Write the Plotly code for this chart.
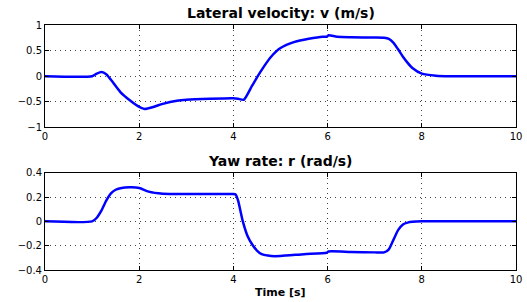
import plotly.graph_objects as go

t_v = [0, 1.0, 1.1, 1.2, 1.3, 1.4, 1.6, 1.8, 2.0, 2.12, 2.3, 2.5, 2.8, 3.0, 3.5, 4.0, 4.1, 4.22, 4.4, 4.57,
       4.8, 5.0, 5.3, 5.6, 5.9, 5.98, 6.02, 6.2, 6.5, 7.0, 7.2, 7.3, 7.4, 7.5, 7.6, 7.7, 7.8, 8.0, 8.3, 8.6, 10]
v = [0, 0, 0.05, 0.08, 0.04, -0.07, -0.31, -0.47, -0.60, -0.64, -0.60, -0.54, -0.48, -0.46, -0.44, -0.43,
     -0.44, -0.46, -0.18, 0.08, 0.38, 0.55, 0.67, 0.73, 0.77, 0.77, 0.80, 0.77, 0.76, 0.755, 0.75, 0.73,
     0.65, 0.52, 0.38, 0.26, 0.16, 0.05, 0.01, 0.0, 0.0]

t_r = [0, 1.0, 1.1, 1.2, 1.3, 1.4, 1.5, 1.6, 1.8, 2.0, 2.2, 2.5, 3.0, 3.5, 4.0, 4.05, 4.1, 4.2, 4.3, 4.4,
       4.5, 4.6, 4.8, 5.0, 5.5, 5.98, 6.02, 6.5, 7.0, 7.2, 7.3, 7.4, 7.5, 7.6, 7.7, 7.8, 8.0, 8.5, 10]
r = [0, 0, 0.03, 0.09, 0.17, 0.23, 0.26, 0.272, 0.28, 0.275, 0.245, 0.228, 0.225, 0.225, 0.225, 0.22,
     0.17, 0.0, -0.12, -0.19, -0.24, -0.27, -0.285, -0.285, -0.27, -0.258, -0.248, -0.252, -0.255,
     -0.255, -0.23, -0.15, -0.07, -0.025, -0.01, -0.004, 0.0, 0.0, 0.0]

x_ticks = [0, 2, 4, 6, 8, 10]
v_ticks = [-1, -0.5, 0, 0.5, 1]
r_ticks = [-0.4, -0.2, 0, 0.2, 0.4]

FONT = "DejaVu Sans, Verdana, sans-serif"
line = dict(color="#0000FF", width=2.5, shape="spline", smoothing=0.6)

fig = go.Figure()
fig.add_trace(go.Scatter(x=t_v, y=v, mode="lines", line=line, xaxis="x", yaxis="y", showlegend=False))
fig.add_trace(go.Scatter(x=t_r, y=r, mode="lines", line=line, xaxis="x2", yaxis="y2", showlegend=False))

ax_common = dict(showline=True, linecolor="black", linewidth=1, mirror="ticks", ticks="inside",
                 ticklen=4, tickcolor="black", showgrid=True, gridcolor="#444444", griddash="1px,4px",
                 gridwidth=1, zeroline=False, automargin=False,
                 tickfont=dict(family=FONT, size=10, color="black"))

fig.update_layout(
    width=527, height=302,
    margin=dict(l=45, r=11, t=25, b=32, autoexpand=False),
    paper_bgcolor="white", plot_bgcolor="white",
    xaxis=dict(domain=[0, 1], range=[0, 10], tickvals=x_ticks, anchor="y", **ax_common),
    yaxis=dict(domain=[0.582, 1], range=[-1, 1], tickvals=v_ticks, anchor="x",
               ticktext=["\u22121", "\u22120.5", "0", "0.5", "1"], **ax_common),
    xaxis2=dict(domain=[0, 1], range=[0, 10], tickvals=x_ticks, anchor="y2", **ax_common),
    yaxis2=dict(domain=[0, 0.397], range=[-0.4, 0.4], tickvals=r_ticks, anchor="x2",
                ticktext=["\u22120.4", "\u22120.2", "0", "0.2", "0.4"], **ax_common),
    annotations=[
        dict(text="<b>Lateral velocity: v (m/s)</b>", x=0.5, y=1.0, xref="paper", yref="paper",
             xanchor="center", yanchor="bottom", yshift=2, showarrow=False,
             font=dict(family=FONT, size=14, color="black")),
        dict(text="<b>Yaw rate: r (rad/s)</b>", x=0.5, y=0.397, xref="paper", yref="paper",
             xanchor="center", yanchor="bottom", yshift=2, showarrow=False,
             font=dict(family=FONT, size=14, color="black")),
        dict(text="<b>Time [s]</b>", x=0.5, y=0, xref="paper", yref="paper",
             xanchor="center", yanchor="top", yshift=-14, showarrow=False,
             font=dict(family=FONT, size=11, color="black")),
    ],
)

fig.write_html("out.html", config={"displayModeBar": False},
               post_script="document.body.style.margin='0';document.body.style.overflow='hidden';")
